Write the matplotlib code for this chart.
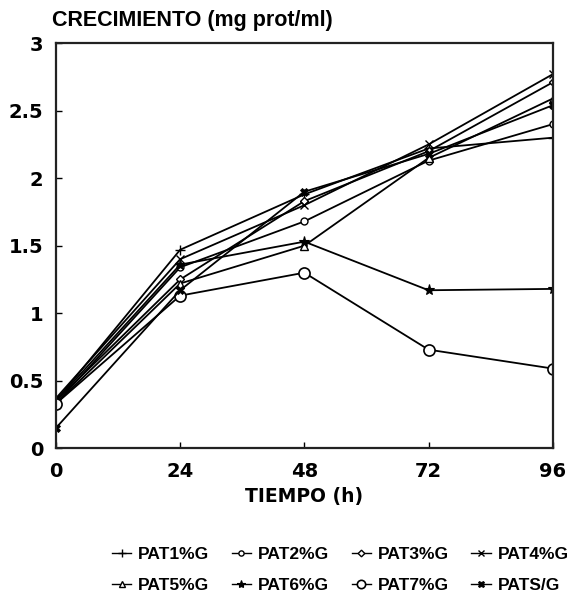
import matplotlib
matplotlib.use("Agg")
import matplotlib.pyplot as plt
from matplotlib.lines import Line2D

plt.rcParams['font.family'] = ['Liberation Sans', 'DejaVu Sans']
plt.rcParams['font.weight'] = 'bold'

# Sampling times (h)
tiempo = [0, 24, 48, 72, 96]

# Growth (mg prot/ml) per culture condition
pat1 = [0.35, 1.47, 1.88, 2.22, 2.30]
pat2 = [0.33, 1.34, 1.68, 2.13, 2.40]
pat3 = [0.35, 1.25, 1.83, 2.20, 2.71]
pat4 = [0.37, 1.40, 1.80, 2.25, 2.77]
pat5 = [0.33, 1.22, 1.50, 2.15, 2.59]
pat6 = [0.35, 1.36, 1.53, 1.17, 1.18]
pat7 = [0.33, 1.13, 1.30, 0.73, 0.59]
pats = [0.15, 1.17, 1.90, 2.18, 2.54]

labels = ['PAT1%G', 'PAT2%G', 'PAT3%G', 'PAT4%G',
          'PAT5%G', 'PAT6%G', 'PAT7%G', 'PATS/G']
series = [pat1, pat2, pat3, pat4, pat5, pat6, pat7, pats]

marker_styles = [
    dict(marker='+', ms=7, mfc='black', mew=1.0),
    dict(marker='o', ms=5, mfc='white', mew=1.0),
    dict(marker='D', ms=4.5, mfc='white', mew=1.0),
    dict(marker='x', ms=6, mfc='black', mew=1.0),
    dict(marker='^', ms=6, mfc='white', mew=1.0),
    dict(marker='*', ms=8, mfc='black', mew=0.8),
    dict(marker='o', ms=8, mfc='white', mew=1.2),
    dict(marker='X', ms=6, mfc='black', mew=0.6),
]

wide = ['DejaVu Sans']

fig = plt.figure(figsize=(5.71, 6.0), dpi=100)
ax = fig.add_axes([0.098, 0.253, 0.870, 0.675])

for vals, lab, st in zip(series, labels, marker_styles):
    ax.plot(tiempo, vals, color='black', lw=1.3, mec='black', label=lab, **st)

ax.set_xlim(0, 96)
ax.set_ylim(0, 3)
ax.set_xticks(tiempo)
ax.set_yticks([0, 0.5, 1, 1.5, 2, 2.5, 3])
ax.set_xticklabels([str(t) for t in tiempo])
ax.set_yticklabels(['0', '0.5', '1', '1.5', '2', '2.5', '3'])
ax.tick_params(axis='y', direction='in', length=4, width=1, pad=9,
               colors='black')
ax.tick_params(axis='x', direction='in', length=4, width=1, pad=10,
               colors='black')
for lbl in ax.get_xticklabels() + ax.get_yticklabels():
    lbl.set_fontweight('bold')
    lbl.set_fontfamily(wide)
    lbl.set_fontsize(14)
for s in ax.spines.values():
    s.set_linewidth(1.6)
    s.set_color('#222222')

ax.set_xlabel('TIEMPO (h)', fontsize=13.5, fontweight='bold', labelpad=4,
              family=wide)
fig.text(0.091, 0.966, 'CRECIMIENTO (mg prot/ml)', fontsize=15.5,
         fontweight='bold', ha='left', va='center')

# Legend filled row by row (4 entries per row)
order = [0, 4, 1, 5, 2, 6, 3, 7]
handles = [Line2D([], [], color='black', lw=1.0, mec='black',
                  **dict(st, ms=st['ms'] * 0.75)) for st in marker_styles]
fig.legend([handles[i] for i in order], [labels[i] for i in order],
           loc='center', bbox_to_anchor=(0.596, 0.05),
           ncol=4, frameon=False, handlelength=1.1,
           handletextpad=0.4, columnspacing=1.3, labelspacing=0.9,
           prop={'weight': 'bold', 'size': 12.5})

fig.savefig('out.png', dpi=100, facecolor='white')
